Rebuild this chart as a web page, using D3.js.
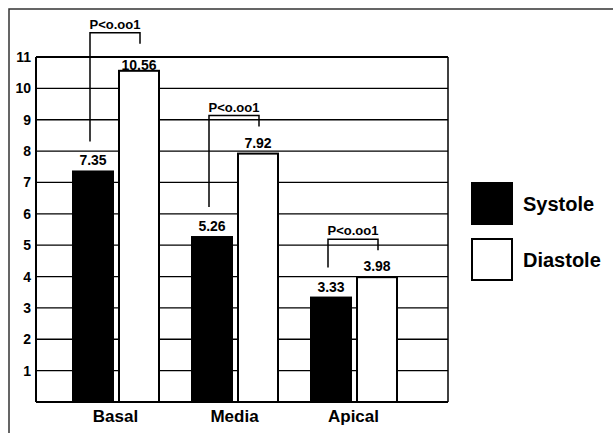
<!DOCTYPE html>
<html>
<head>
<meta charset="utf-8">
<script src="https://cdn.jsdelivr.net/npm/d3@7.9.0/dist/d3.min.js"></script>
<style>
  body { margin: 0; background: #fff; }
  svg { display: block; font-family: "Liberation Sans", Arial, sans-serif; font-weight: bold; }
</style>
</head>
<body>
<svg id="chart" width="613" height="433"></svg>
<script>
const categories = ["Basal", "Media", "Apical"];
const series = ["Systole", "Diastole"];
const systole = [7.35, 5.26, 3.33];
const diastole = [10.56, 7.92, 3.98];
const yTicks = [1, 2, 3, 4, 5, 6, 7, 8, 9, 10, 11];
const pLabels = ["P<o.oo1", "P<o.oo1", "P<o.oo1"];

const svg = d3.select('#chart');
const plotL = 36, plotR = 448, plotT = 57, plotB = 402;

// outer frame
svg.append('path')
  .attr('d', 'M9,433V9H613')
  .attr('fill', 'none')
  .attr('stroke', '#333')
  .attr('stroke-width', 1.5);

let y = d3.scaleLinear().domain([0, 11]).range([plotB, plotT]);
let x0 = d3.scaleBand().domain(categories).range([56, 413]);
let x1 = d3.scaleBand().domain(series).range([17, 103]).paddingInner(6 / 46);
let fill = d3.scaleOrdinal().domain(series).range(['#000', '#fff']);

// grid lines
svg.append('g')
  .selectAll('line')
  .data([0].concat(yTicks))
  .join('line')
  .attr('x1', plotL).attr('x2', plotR)
  .attr('y1', d => y(d)).attr('y2', d => y(d))
  .attr('stroke', '#000')
  .attr('stroke-width', d => d === 0 || d === 11 ? 2 : 1.3);

svg.append('line')
  .attr('x1', plotL).attr('x2', plotL).attr('y1', plotT).attr('y2', plotB)
  .attr('stroke', '#000').attr('stroke-width', 2);
svg.append('line')
  .attr('x1', plotR).attr('x2', plotR).attr('y1', plotT).attr('y2', plotB)
  .attr('stroke', '#000').attr('stroke-width', 1.5);

// y tick labels
svg.append('g')
  .selectAll('text')
  .data(yTicks)
  .join('text')
  .attr('x', 31)
  .attr('y', d => y(d) + 5)
  .attr('text-anchor', 'end')
  .attr('font-size', 14)
  .text(d => d);

let rows = categories.map((c, i) => ({ cat: c, values: [systole[i], diastole[i]], p: pLabels[i] }));

let groups = svg.append('g')
  .selectAll('g')
  .data(rows)
  .join('g')
  .attr('transform', d => `translate(${x0(d.cat)},0)`);

groups.selectAll('rect')
  .data(d => series.map((s, j) => ({ s, v: d.values[j] })))
  .join('rect')
  .attr('x', d => x1(d.s))
  .attr('y', d => y(d.v))
  .attr('width', x1.bandwidth())
  .attr('height', d => plotB - y(d.v))
  .attr('fill', d => fill(d.s))
  .attr('stroke', '#000')
  .attr('stroke-width', 2);

// value labels, kept below the top grid line
groups.selectAll('text.val')
  .data(d => series.map((s, j) => ({ s, v: d.values[j] })))
  .join('text')
  .attr('class', 'val')
  .attr('x', d => x1(d.s) + x1.bandwidth() / 2)
  .attr('y', d => Math.max(y(d.v) - 6, plotT + 13))
  .attr('text-anchor', 'middle')
  .attr('font-size', 14)
  .text(d => d.v.toFixed(2));

// significance brackets
groups.each(function(d) {
  let g = d3.select(this);
  let xa = x1('Systole') + x1.bandwidth() / 2 - 3;
  let xb = x1('Diastole') + x1.bandwidth() / 2 + 1;
  let yb = y(d.values[1]) - 38;
  let yl = y(d.values[0]) - 30;
  g.append('path')
    .attr('d', `M${xa},${yl}V${yb}H${xb}V${yb + 11}`)
    .attr('fill', 'none')
    .attr('stroke', '#000')
    .attr('stroke-width', 1.5);
  g.append('text')
    .attr('x', (xa + xb) / 2)
    .attr('y', yb - 4)
    .attr('text-anchor', 'middle')
    .attr('font-size', 13)
    .text(d.p);
});

// category labels
svg.append('g')
  .selectAll('text')
  .data(categories)
  .join('text')
  .attr('x', d => x0(d) + x0.bandwidth() / 2)
  .attr('y', 422)
  .attr('text-anchor', 'middle')
  .attr('font-size', 17)
  .text(d => d);

// legend
let legend = svg.append('g')
  .selectAll('g')
  .data(series)
  .join('g')
  .attr('transform', (d, i) => `translate(472,${183 + i * 56})`);
legend.append('rect')
  .attr('width', 40).attr('height', 41)
  .attr('fill', d => fill(d))
  .attr('stroke', '#000').attr('stroke-width', 2);
legend.append('text')
  .attr('x', 51).attr('y', 28)
  .attr('font-size', 20)
  .text(d => d);
</script>
</body>
</html>
